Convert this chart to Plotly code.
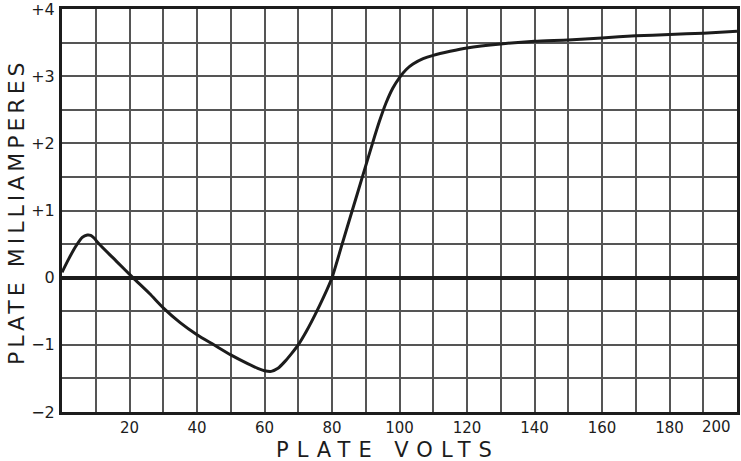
import plotly.graph_objects as go

# Data
plate_volts = [0, 2, 4, 6, 7.5, 8.5, 9.5, 11, 16, 21, 26, 30, 35, 40, 45, 50, 55, 58,
               60, 62, 64, 66, 68, 70, 72.5, 75, 77.5, 80, 83, 86, 89, 92, 94, 96, 98,
               100, 102, 104, 107, 110, 115, 120, 130, 140, 150, 160, 170, 180, 190, 200]
plate_ma = [0.08, 0.28, 0.46, 0.6, 0.635, 0.63, 0.59, 0.5, 0.25, 0.0, -0.24, -0.45,
            -0.67, -0.85, -1.0, -1.15, -1.28, -1.35, -1.385, -1.395, -1.35, -1.25,
            -1.13, -1.0, -0.79, -0.55, -0.29, 0.0, 0.5, 1.0, 1.5, 2.0, 2.32, 2.6, 2.82,
            2.98, 3.1, 3.18, 3.26, 3.31, 3.37, 3.42, 3.48, 3.52, 3.54, 3.57, 3.6, 3.62,
            3.64, 3.67]

x_tick_vals = list(range(0, 201, 10))
x_tick_text = [str(v) if (v % 20 == 0 and 0 < v < 200) else "" for v in x_tick_vals]
last_x_label = "200"
last_x_label_pos = 194  # hand-lettered label sits left of the right border
y_tick_vals = [v / 2 for v in range(-4, 9)]
y_label_map = {4: "+4", 3: "+3", 2: "+2", 1: "+1", 0: "0", -1: "\u22121", -2: "\u22122"}
y_tick_text = [y_label_map[int(v)] if float(v).is_integer() else "" for v in y_tick_vals]

FONT = "DejaVu Sans"
INK = "#1c1c1c"

fig = go.Figure()
fig.add_trace(go.Scatter(
    x=plate_volts, y=plate_ma, mode="lines",
    line=dict(color=INK, width=3, shape="spline", smoothing=0.6),
    hoverinfo="skip", showlegend=False,
))

fig.update_layout(
    width=741, height=461,
    margin=dict(l=62, r=4, t=9, b=49),
    paper_bgcolor="white", plot_bgcolor="white",
    font=dict(family=FONT, color=INK, size=15),
    xaxis=dict(
        range=[0, 200], tickmode="array", tickvals=x_tick_vals, ticktext=x_tick_text,
        showgrid=True, gridcolor="#555555", gridwidth=1.7, automargin=False,
        zeroline=False, showline=True, linecolor=INK, linewidth=3, mirror=True,
        ticks="", ticklabelstandoff=0, ticklabeloverflow="allow",
        tickfont=dict(size=15, family=FONT, color=INK),
    ),
    yaxis=dict(
        range=[-2, 4], tickmode="array", tickvals=y_tick_vals, ticktext=y_tick_text,
        showgrid=True, gridcolor="#555555", gridwidth=1.7, automargin=False,
        zeroline=True, zerolinecolor=INK, zerolinewidth=3.5,
        showline=True, linecolor=INK, linewidth=3, mirror=True,
        ticks="", ticklabelstandoff=1, ticklabeloverflow="allow",
        tickfont=dict(size=16, family=FONT, color=INK),
    ),
    annotations=[
        dict(text=last_x_label, x=last_x_label_pos, xref="x", y=-(427 - 412) / 403,
             yref="paper", xanchor="center", yanchor="middle", showarrow=False,
             font=dict(size=15, family=FONT, color=INK)),
        dict(text="PLATE VOLTS", xref="paper", yref="paper", x=(388 - 62) / 675,
             y=-(450 - 412) / 403, xanchor="center", yanchor="middle", showarrow=False,
             font=dict(size=21, family=FONT, color=INK)),
        dict(text="PLATE MILLIAMPERES", xref="paper", yref="paper", x=-(62 - 16) / 675,
             y=(412 - 212) / 403, xanchor="center", yanchor="middle", showarrow=False,
             textangle=-90, font=dict(size=22, family=FONT, color=INK)),
    ],
)

post = """
document.body.style.margin = '0';
document.body.style.padding = '0';
var gd = document.getElementById('{plot_id}');
gd.querySelectorAll('.annotation-text').forEach(function(t){
  var s = t.textContent;
  if (s === 'PLATE VOLTS') { t.style.letterSpacing = '8px'; }
  else if (s === 'PLATE MILLIAMPERES') { t.style.letterSpacing = '4px'; }
});
"""

fig.write_html("out.html", post_script=post, config={"displayModeBar": False})
